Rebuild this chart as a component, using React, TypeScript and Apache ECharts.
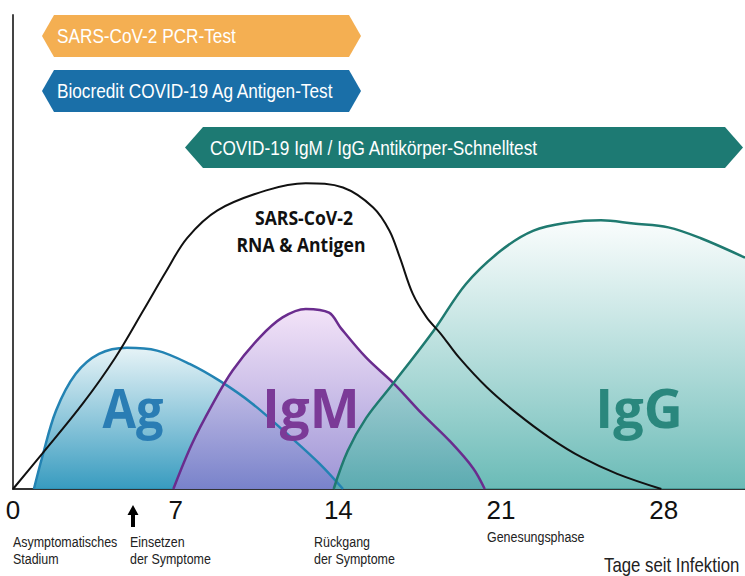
import React, { useEffect, useRef } from "react";
import * as echarts from "echarts";

// ---- data (days since infection, relative level 0-100) ----
const dayTicks = [0, 7, 14, 21, 28];
const dayMax = 31.5;

const rnaAntigen: [number, number][] = [
  [0, 0], [1.25, 7.4], [3.0, 18], [4.4, 27.7], [5.6, 37.6], [6.6, 46], [7.5, 53],
  [8.8, 58.8], [10.9, 63], [12.6, 64.5], [14.2, 63.6], [15.5, 59.4], [16.2, 54.5],
  [16.65, 48.8], [17.2, 41.2], [17.8, 36.2], [18.4, 32.8], [19.2, 27.7], [20.4, 21.4],
  [21.7, 15.9], [23.1, 10.8], [24.5, 6.6], [26, 3.2], [27.9, 0],
];

const agLevel: [number, number][] = [
  [0.9, 0], [1.25, 6.6], [1.85, 16.5], [2.7, 24.3], [3.7, 28.5], [4.9, 29.8],
  [6.2, 29.2], [7.6, 26.4], [8.9, 22.8], [10.3, 18], [11.8, 11.6], [13.2, 5.3], [14.2, 0],
];

const igmLevel: [number, number][] = [
  [6.9, 0], [7.7, 9.5], [8.6, 18], [9.45, 25], [10.6, 31.9], [11.6, 36.2], [12.6, 38],
  [13.6, 37.2], [14.1, 34], [15.2, 27.7], [16.4, 22.2], [17.6, 15.9], [18.8, 10.1],
  [19.8, 4.4], [20.3, 0],
];

const iggLevel: [number, number][] = [
  [13.8, 0], [14.4, 8], [15.2, 15], [16.35, 22.2], [18.1, 33.4], [19.5, 43.3], [21, 50.3],
  [22.4, 54.5], [23.9, 56.2], [25.3, 56.7], [26.7, 56], [28.2, 55.2], [29.6, 52.9], [31.5, 48.8],
];

const bannerTexts = [
  "SARS-CoV-2 PCR-Test",
  "Biocredit COVID-19 Ag Antigen-Test",
  "COVID-19 IgM / IgG Antikörper-Schnelltest",
];
const curveLabels = ["Ag", "IgM", "IgG"];
const virusLabel = ["SARS-CoV-2", "RNA & Antigen"];
const phaseLabels = [
  ["Asymptomatisches", "Stadium"],
  ["Einsetzen", "der Symptome"],
  ["Rückgang", "der Symptome"],
  ["Genesungsphase"],
];
const axisTitle = "Tage seit Infektion";

const SANS = "'Liberation Sans', Arial, sans-serif";
const BOLD = "'Open Sans', 'Noto Sans', sans-serif";

function grad(top: string, bottom: string) {
  return new echarts.graphic.LinearGradient(0, 0, 0, 1, [
    { offset: 0, color: top },
    { offset: 1, color: bottom },
  ]);
}

function narrowText(text: string, x: number, y: number, size: number, fill: string, sx: number, align = "left") {
  return {
    type: "text",
    x,
    y,
    scaleX: sx,
    z: 20,
    style: {
      text,
      fill,
      fontSize: size,
      fontFamily: SANS,
      textAlign: align,
      textVerticalAlign: "middle",
    },
  };
}

function boldText(text: string, x: number, y: number, size: number, fill: string, sx: number) {
  return {
    type: "text",
    x,
    y,
    scaleX: sx,
    z: 20,
    style: {
      text,
      fill,
      fontSize: size,
      fontWeight: "bold",
      fontFamily: BOLD,
      textAlign: "center",
      textVerticalAlign: "middle",
    },
  };
}

function banner(x0: number, x1: number, y0: number, y1: number, tip: number, fill: string) {
  const ym = (y0 + y1) / 2;
  return {
    type: "polygon",
    z: 10,
    shape: {
      points: [
        [x0, ym], [x0 + tip, y0], [x1 - tip, y0], [x1, ym], [x1 - tip, y1], [x0 + tip, y1],
      ],
    },
    style: { fill },
  };
}

export default function App() {
  const ref = useRef<HTMLDivElement>(null);

  useEffect(() => {
    if (!ref.current) return;
    const chart = echarts.init(ref.current, null, { renderer: "svg" });

    const areaSeries = (name: string, data: [number, number][], fill: any, z: number) => ({
      name: name + "-area",
      type: "line",
      data,
      smooth: 0.35,
      symbol: "none",
      lineStyle: { width: 0 },
      areaStyle: { color: fill, opacity: 1 },
      z,
      silent: true,
    });
    const lineSeries = (name: string, data: [number, number][], color: string, width: number, z: number) => ({
      name,
      type: "line",
      data,
      smooth: 0.35,
      symbol: "none",
      lineStyle: { color, width },
      z,
      silent: true,
    });

    const graphic: any[] = [
      banner(42, 361, 15, 57, 12, "#F4AF52"),
      narrowText(bannerTexts[0], 57, 36, 21, "#ffffff", 0.82),
      banner(42, 361, 70, 112, 12, "#1A6FA8"),
      narrowText(bannerTexts[1], 57, 91, 21, "#ffffff", 0.82),
      banner(185, 743, 127, 168, 18, "#1D7A73"),
      narrowText(bannerTexts[2], 210, 147.5, 21, "#ffffff", 0.82),

      boldText(virusLabel[0], 304, 218, 20, "#111111", 0.88),
      boldText(virusLabel[1], 301, 245, 20, "#111111", 0.88),

      boldText(curveLabels[0], 133, 407, 54, "#2A7DB4", 0.9),
      boldText(curveLabels[1], 311, 407, 54, "#7B3A97", 0.98),
      boldText(curveLabels[2], 639, 407, 54, "#2A877D", 1.0),

      narrowText(phaseLabels[0][0], 13, 542.5, 15, "#222222", 0.83),
      narrowText(phaseLabels[0][1], 13, 559, 15, "#222222", 0.83),
      narrowText(phaseLabels[1][0], 130, 542.5, 15, "#222222", 0.83),
      narrowText(phaseLabels[1][1], 130, 559, 15, "#222222", 0.83),
      narrowText(phaseLabels[2][0], 314, 542.5, 15, "#222222", 0.83),
      narrowText(phaseLabels[2][1], 314, 559, 15, "#222222", 0.83),
      narrowText(phaseLabels[3][0], 487, 537, 15, "#222222", 0.83),
      narrowText(axisTitle, 604, 565, 20, "#222222", 0.84),

      {
        type: "polygon",
        z: 20,
        shape: {
          points: [[133, 505], [138.5, 515], [135, 515], [135, 527], [131, 527], [131, 515], [127.5, 515]],
        },
        style: { fill: "#000000" },
      },
    ];

    chart.setOption({
      animation: false,
      backgroundColor: "#ffffff",
      grid: { left: 13, right: 0, top: 15, bottom: 87, containLabel: false },
      xAxis: {
        type: "value",
        min: 0,
        max: dayMax,
        interval: 7,
        axisLine: { show: true, lineStyle: { color: "#333333", width: 2 } },
        axisTick: { show: false },
        splitLine: { show: false },
        axisLabel: {
          fontSize: 26,
          fontFamily: SANS,
          color: "#111111",
          margin: 8,
          showMaxLabel: false,
          formatter: (v: number) => (dayTicks.includes(v) ? String(v) : ""),
        },
      },
      yAxis: {
        type: "value",
        min: 0,
        max: 100,
        axisLine: { show: true, lineStyle: { color: "#444444", width: 2 } },
        axisTick: { show: false },
        axisLabel: { show: false },
        splitLine: { show: false },
      },
      series: [
        areaSeries("Ag", agLevel, grad("rgba(228,242,246,0.92)", "rgba(45,150,188,0.95)"), 1),
        areaSeries("IgM", igmLevel, grad("rgba(240,220,246,0.8)", "rgba(135,125,205,0.82)"), 2),
        areaSeries("IgG", iggLevel, grad("rgba(248,252,252,0.75)", "rgba(80,175,170,0.85)"), 3),
        lineSeries("Ag", agLevel, "#2383B3", 2.5, 5),
        lineSeries("IgM", igmLevel, "#6A2C8E", 2.5, 5),
        lineSeries("IgG", iggLevel, "#1F7A70", 2.5, 5),
        lineSeries("SARS-CoV-2 RNA & Antigen", rnaAntigen, "#111111", 2, 6),
      ],
      graphic,
    });

    return () => chart.dispose();
  }, []);

  return (
    <div
      ref={ref}
      style={{ position: "fixed", left: 0, top: 0, width: 745, height: 576, background: "#fff" }}
    />
  );
}
